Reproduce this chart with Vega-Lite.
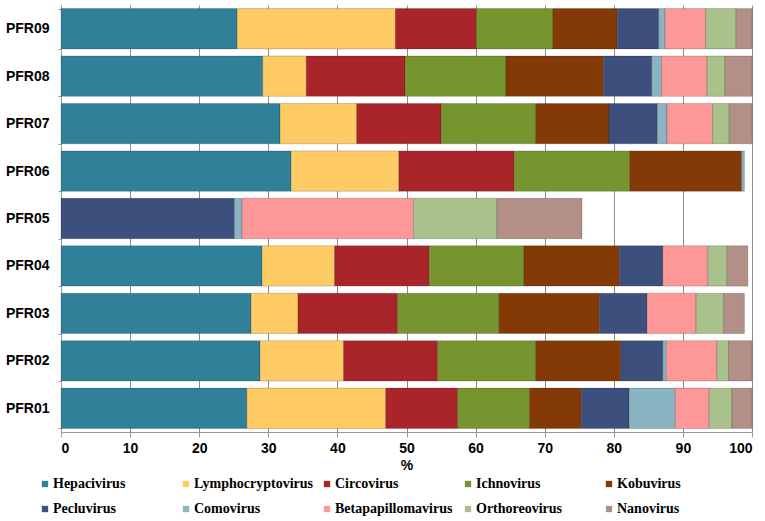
{
  "$schema": "https://vega.github.io/schema/vega-lite/v6.json",
  "width": 691,
  "height": 427,
  "autosize": {"type": "none"},
  "padding": {"left": 61, "top": 5, "right": 13, "bottom": 89},
  "background": "white",
  "datasets": {
    "ranks": [
      {"virus": "Hepacivirus", "rank": 1},
      {"virus": "Lymphocryptovirus", "rank": 2},
      {"virus": "Circovirus", "rank": 3},
      {"virus": "Ichnovirus", "rank": 4},
      {"virus": "Kobuvirus", "rank": 5},
      {"virus": "Pecluvirus", "rank": 6},
      {"virus": "Comovirus", "rank": 7},
      {"virus": "Betapapillomavirus", "rank": 8},
      {"virus": "Orthoreovirus", "rank": 9},
      {"virus": "Nanovirus", "rank": 10}
    ]
  },
  "data": {
    "values": [
      {"sample": "PFR09", "virus": "Hepacivirus", "pct": 25.5},
      {"sample": "PFR09", "virus": "Lymphocryptovirus", "pct": 22.9},
      {"sample": "PFR09", "virus": "Circovirus", "pct": 11.7},
      {"sample": "PFR09", "virus": "Ichnovirus", "pct": 11.1},
      {"sample": "PFR09", "virus": "Kobuvirus", "pct": 9.3},
      {"sample": "PFR09", "virus": "Pecluvirus", "pct": 6.0},
      {"sample": "PFR09", "virus": "Comovirus", "pct": 0.9},
      {"sample": "PFR09", "virus": "Betapapillomavirus", "pct": 5.9},
      {"sample": "PFR09", "virus": "Orthoreovirus", "pct": 4.4},
      {"sample": "PFR09", "virus": "Nanovirus", "pct": 2.3},

      {"sample": "PFR08", "virus": "Hepacivirus", "pct": 29.2},
      {"sample": "PFR08", "virus": "Lymphocryptovirus", "pct": 6.3},
      {"sample": "PFR08", "virus": "Circovirus", "pct": 14.3},
      {"sample": "PFR08", "virus": "Ichnovirus", "pct": 14.6},
      {"sample": "PFR08", "virus": "Kobuvirus", "pct": 14.1},
      {"sample": "PFR08", "virus": "Pecluvirus", "pct": 7.0},
      {"sample": "PFR08", "virus": "Comovirus", "pct": 1.4},
      {"sample": "PFR08", "virus": "Betapapillomavirus", "pct": 6.6},
      {"sample": "PFR08", "virus": "Orthoreovirus", "pct": 2.6},
      {"sample": "PFR08", "virus": "Nanovirus", "pct": 3.9},

      {"sample": "PFR07", "virus": "Hepacivirus", "pct": 31.7},
      {"sample": "PFR07", "virus": "Lymphocryptovirus", "pct": 11.1},
      {"sample": "PFR07", "virus": "Circovirus", "pct": 12.2},
      {"sample": "PFR07", "virus": "Ichnovirus", "pct": 13.7},
      {"sample": "PFR07", "virus": "Kobuvirus", "pct": 10.6},
      {"sample": "PFR07", "virus": "Pecluvirus", "pct": 7.0},
      {"sample": "PFR07", "virus": "Comovirus", "pct": 1.4},
      {"sample": "PFR07", "virus": "Betapapillomavirus", "pct": 6.6},
      {"sample": "PFR07", "virus": "Orthoreovirus", "pct": 2.4},
      {"sample": "PFR07", "virus": "Nanovirus", "pct": 3.3},

      {"sample": "PFR06", "virus": "Hepacivirus", "pct": 33.3},
      {"sample": "PFR06", "virus": "Lymphocryptovirus", "pct": 15.6},
      {"sample": "PFR06", "virus": "Circovirus", "pct": 16.7},
      {"sample": "PFR06", "virus": "Ichnovirus", "pct": 16.7},
      {"sample": "PFR06", "virus": "Kobuvirus", "pct": 16.2},
      {"sample": "PFR06", "virus": "Comovirus", "pct": 0.4},

      {"sample": "PFR05", "virus": "Pecluvirus", "pct": 25.1},
      {"sample": "PFR05", "virus": "Comovirus", "pct": 1.1},
      {"sample": "PFR05", "virus": "Betapapillomavirus", "pct": 24.8},
      {"sample": "PFR05", "virus": "Orthoreovirus", "pct": 12.1},
      {"sample": "PFR05", "virus": "Nanovirus", "pct": 12.3},

      {"sample": "PFR04", "virus": "Hepacivirus", "pct": 29.1},
      {"sample": "PFR04", "virus": "Lymphocryptovirus", "pct": 10.5},
      {"sample": "PFR04", "virus": "Circovirus", "pct": 13.7},
      {"sample": "PFR04", "virus": "Ichnovirus", "pct": 13.7},
      {"sample": "PFR04", "virus": "Kobuvirus", "pct": 13.8},
      {"sample": "PFR04", "virus": "Pecluvirus", "pct": 6.3},
      {"sample": "PFR04", "virus": "Betapapillomavirus", "pct": 6.5},
      {"sample": "PFR04", "virus": "Orthoreovirus", "pct": 2.8},
      {"sample": "PFR04", "virus": "Nanovirus", "pct": 3.0},

      {"sample": "PFR03", "virus": "Hepacivirus", "pct": 27.5},
      {"sample": "PFR03", "virus": "Lymphocryptovirus", "pct": 6.8},
      {"sample": "PFR03", "virus": "Circovirus", "pct": 14.4},
      {"sample": "PFR03", "virus": "Ichnovirus", "pct": 14.7},
      {"sample": "PFR03", "virus": "Kobuvirus", "pct": 14.5},
      {"sample": "PFR03", "virus": "Pecluvirus", "pct": 6.9},
      {"sample": "PFR03", "virus": "Betapapillomavirus", "pct": 7.1},
      {"sample": "PFR03", "virus": "Orthoreovirus", "pct": 4.0},
      {"sample": "PFR03", "virus": "Nanovirus", "pct": 3.0},

      {"sample": "PFR02", "virus": "Hepacivirus", "pct": 28.8},
      {"sample": "PFR02", "virus": "Lymphocryptovirus", "pct": 12.1},
      {"sample": "PFR02", "virus": "Circovirus", "pct": 13.6},
      {"sample": "PFR02", "virus": "Ichnovirus", "pct": 14.2},
      {"sample": "PFR02", "virus": "Kobuvirus", "pct": 12.3},
      {"sample": "PFR02", "virus": "Pecluvirus", "pct": 6.1},
      {"sample": "PFR02", "virus": "Comovirus", "pct": 0.5},
      {"sample": "PFR02", "virus": "Betapapillomavirus", "pct": 7.3},
      {"sample": "PFR02", "virus": "Orthoreovirus", "pct": 1.7},
      {"sample": "PFR02", "virus": "Nanovirus", "pct": 3.4},

      {"sample": "PFR01", "virus": "Hepacivirus", "pct": 26.9},
      {"sample": "PFR01", "virus": "Lymphocryptovirus", "pct": 20.1},
      {"sample": "PFR01", "virus": "Circovirus", "pct": 10.4},
      {"sample": "PFR01", "virus": "Ichnovirus", "pct": 10.4},
      {"sample": "PFR01", "virus": "Kobuvirus", "pct": 7.5},
      {"sample": "PFR01", "virus": "Pecluvirus", "pct": 6.9},
      {"sample": "PFR01", "virus": "Comovirus", "pct": 6.7},
      {"sample": "PFR01", "virus": "Betapapillomavirus", "pct": 4.9},
      {"sample": "PFR01", "virus": "Orthoreovirus", "pct": 3.3},
      {"sample": "PFR01", "virus": "Nanovirus", "pct": 2.9}
    ]
  },
  "transform": [
    {"lookup": "virus", "from": {"data": {"name": "ranks"}, "key": "virus", "fields": ["rank"]}}
  ],
  "mark": {"type": "bar", "stroke": "#000000", "strokeOpacity": 0.18, "strokeWidth": 1},
  "encoding": {
    "y": {
      "field": "sample",
      "type": "nominal",
      "sort": "descending",
      "scale": {"paddingInner": 0.15, "paddingOuter": 0.075},
      "axis": {
        "title": null,
        "labelFont": "Liberation Sans",
        "labelFontWeight": "bold",
        "labelFontSize": 14,
        "labelColor": "#000000",
        "labelPadding": 9,
        "tickSize": 3,
        "tickColor": "#999999",
        "domainColor": "#999999",
        "tickBand": "extent",
        "grid": false
      }
    },
    "x": {
      "field": "pct",
      "type": "quantitative",
      "stack": "zero",
      "scale": {"domain": [0, 100], "nice": false},
      "axis": {
        "title": "%",
        "values": [0, 10, 20, 30, 40, 50, 60, 70, 80, 90, 100],
        "titleFont": "Liberation Sans",
        "titleFontWeight": "bold",
        "titleFontSize": 14,
        "titleColor": "#000000",
        "titlePadding": 3,
        "labelFont": "Liberation Sans",
        "labelFontWeight": "bold",
        "labelFontSize": 14,
        "labelColor": "#000000",
        "labelPadding": 4,
        "tickSize": 5,
        "tickColor": "#999999",
        "domainColor": "#999999",
        "grid": true,
        "gridColor": "#8C8C8C",
        "gridWidth": 1
      }
    },
    "order": {"field": "rank", "type": "quantitative", "sort": "ascending"},
    "color": {
      "field": "virus",
      "type": "nominal",
      "sort": ["Hepacivirus", "Lymphocryptovirus", "Circovirus", "Ichnovirus", "Kobuvirus", "Pecluvirus", "Comovirus", "Betapapillomavirus", "Orthoreovirus", "Nanovirus"],
      "scale": {
        "domain": ["Hepacivirus", "Lymphocryptovirus", "Circovirus", "Ichnovirus", "Kobuvirus", "Pecluvirus", "Comovirus", "Betapapillomavirus", "Orthoreovirus", "Nanovirus"],
        "range": ["#31809A", "#FECB65", "#AA2529", "#77952F", "#843A06", "#3D4F7D", "#8AB4C1", "#FE9898", "#A9C18A", "#B39087"]
      },
      "legend": {
        "title": null,
        "orient": "none",
        "legendX": -23,
        "legendY": 472,
        "direction": "horizontal",
        "columns": 5,
        "gridAlign": "all",
        "columnPadding": 6,
        "rowPadding": 11,
        "padding": 0,
        "symbolType": "square",
        "symbolSize": 40,
        "symbolStrokeWidth": 0,
        "symbolOffset": 0,
        "labelOffset": 1,
        "labelFont": "Liberation Serif",
        "labelFontWeight": "bold",
        "labelFontSize": 14,
        "labelColor": "#000000",
        "labelLimit": 200
      }
    }
  },
  "config": {
    "view": {"stroke": null}
  }
}
